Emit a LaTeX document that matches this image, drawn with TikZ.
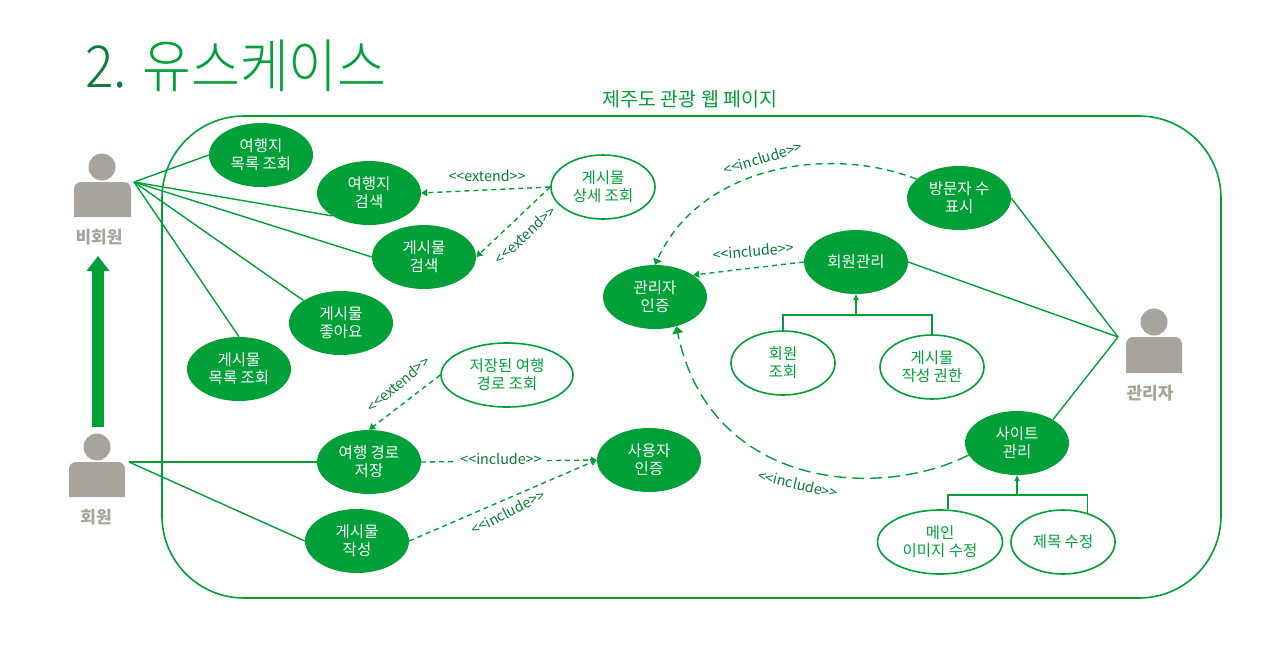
\documentclass[tikz,border=0pt]{standalone}
\usepackage{fontspec}
\setmainfont{Noto Sans CJK KR}
\newfontfamily\thinfont{Noto Sans CJK KR Light}
\usetikzlibrary{shapes.geometric,arrows.meta}
\definecolor{grn}{HTML}{00A039}
\definecolor{dgrn}{HTML}{0B7A3A}
\definecolor{gry}{HTML}{A8A49C}
\newcommand{\inc}{{<}{<}include{>}{>}}
\newcommand{\ext}{{<}{<}extend{>}{>}}
\tikzset{
 x=1pt,y=-1pt,
 uc/.style={ellipse,fill=grn,text=white,minimum width=104pt,minimum height=64pt,inner sep=0pt,align=center,font=\fontsize{15.5}{18}\selectfont},
 ucout/.style={ellipse,draw=grn,line width=1.6pt,fill=white,text=grn,minimum width=104pt,minimum height=64pt,inner sep=0pt,align=center,font=\fontsize{15.5}{18}\selectfont},
 link/.style={draw=grn,line width=1.4pt},
 dep/.style={draw=grn,line width=1.4pt,dash pattern=on 5pt off 4pt,-{Triangle[length=6pt,width=7pt]}},
 stem/.style={draw=grn,line width=1.4pt,-{Triangle[length=6pt,width=5pt]}},
 tag/.style={text=dgrn,font=\fontsize{14.3}{15}\selectfont,inner sep=1pt},
 who/.style={text=gry,font=\bfseries\fontsize{17}{18}\selectfont,inner sep=0pt},
 head/.style={circle,fill=gry,minimum size=27pt,inner sep=0pt},
 torso/.style={fill=gry,rounded corners=7pt},
}
\begin{document}
\begin{tikzpicture}
\useasboundingbox (0,0) rectangle (1280,646);
\fill[white] (0,0) rectangle (1280,646);
\node[anchor=west,inner sep=0pt,font=\thinfont\fontsize{58}{60}\selectfont,text=grn,xscale=0.915] (title) at (85,66) {\textcolor{dgrn}{2.} 유스케이스};
\node[text=grn,font=\fontsize{19.5}{20}\selectfont,inner sep=0pt] (sys) at (690,99) {제주도 관광 웹 페이지};
\draw[grn,line width=1.6pt,rounded corners=82pt] (162,116) rectangle (1221,598);

% actors
\node[head] (a1) at (102,167) {};
\path[torso] (74,217) [sharp corners] -- (74,200) [rounded corners=7pt] -- (74,182) -- (131,182) [sharp corners] -- (131,217) -- cycle;
\node[who] (a1l) at (99,237) {비회원};
\node[head] (a2) at (97,447) {};
\path[torso] (69,497) [sharp corners] -- (69,480) [rounded corners=7pt] -- (69,462) -- (125,462) [sharp corners] -- (125,497) -- cycle;
\node[who] (a2l) at (96,517) {회원};
\node[head] (a3) at (1154,322) {};
\path[torso] (1126,373) [sharp corners] -- (1126,355) [rounded corners=7pt] -- (1126,337) -- (1182,337) [sharp corners] -- (1182,373) -- cycle;
\node[who] (a3l) at (1150,393) {관리자};
\coordinate (p1) at (134,182);
\coordinate (p2) at (129,462);
\coordinate (p3) at (1118,337);
\coordinate (g1) at (98,427);
\coordinate (g2) at (98,256);
\draw[grn,line width=11.5pt,-{Triangle[length=15pt,width=22pt]}] (g1) -- (g2);

% use cases
\node[uc] (u1) at (261,155) {여행지\\목록 조회};
\node[uc] (u2) at (369,193) {여행지\\검색};
\node[uc] (u3) at (424,257) {게시물\\검색};
\node[uc] (u4) at (341,323) {게시물\\좋아요};
\node[uc] (u5) at (239,369) {게시물\\목록 조회};
\node[ucout] (u6) at (603,187) {게시물\\상세 조회};
\node[uc] (u7) at (655,297) {관리자\\인증};
\node[uc] (u8) at (856,262) {회원관리};
\node[uc] (u9) at (959,198) {방문자 수\\표시};
\node[ucout] (u10) at (783,363) {회원\\조회};
\node[ucout] (u11) at (932,367) {게시물\\작성 권한};
\node[uc] (u12) at (1017,443) {사이트\\관리};
\node[ucout,minimum width=125pt] (u13) at (940,542) {메인\\이미지 수정};
\node[ucout] (u14) at (1063,542) {제목 수정};
\node[ucout,minimum width=132pt] (u15) at (507,375) {저장된 여행\\경로 조회};
\node[uc] (u16) at (369,462) {여행 경로\\저장};
\node[uc] (u17) at (357,541) {게시물\\작성};
\node[uc] (u18) at (649,460) {사용자\\인증};

% plain links
\draw[link] (p1) -- (u1.west);
\draw[link] (p1) -- (u2.212);
\draw[link] (p1) -- (u3.west);
\draw[link] (p1) -- (u4.149);
\draw[link] (p1) -- (u5.north);
\draw[link] (p2) -- (u16.west);
\draw[link] (p2) -- (u17.west);
\draw[link] (u9.east) -- (p3);
\draw[link] (u8.east) -- (p3);
\draw[link] (u12.33) -- (p3);

% trees
\coordinate (t1) at (856,315);
\coordinate (t2) at (1017,495);
\draw[link] (u10.north) |- (t1);
\draw[link] (u11.north) |- (t1);
\draw[stem] (t1) -- (u8.south);
\draw[link] (u13.76) |- (t2);
\draw[link] (u14.50) |- (t2);
\draw[stem] (t2) -- (u12.south);

% dependencies
\draw[dep] (u6.west) -- (u2.east);
\draw[dep] (u6.west) -- (u3.east);
\draw[dep] (u15.west) -- (u16.north);
\draw[dep] (u16.east) -- (u18.west);
\draw[dep] (u17.east) -- (u18.west);
\draw[dep] (u8.west) -- (u7.30);
\draw[dep,dash pattern=on 7pt off 5pt,-{Triangle[length=6pt,width=9pt]}] (u9.156) .. controls (830,145) and (700,165) .. (u7.north);
\draw[dep,dash pattern=on 12pt off 6pt,-{Triangle[length=7pt,width=11pt]}] (u12.194) .. controls (880,500) and (710,490) .. (u7.-54);

% labels
\node[tag] (l1) at (487,176) {\ext};
\node[tag,rotate=43] (l2) at (525,235) {\ext};
\node[tag,rotate=17] (l3) at (763,158) {\inc};
\node[tag,rotate=5] (l4) at (753,251) {\inc};
\node[tag,rotate=40] (l5) at (398,384) {\ext};
\node[tag,fill=white,inner sep=4pt] (l6) at (501,459) {\inc};
\node[tag,rotate=27] (l7) at (508,512) {\inc};
\node[tag,rotate=-13] (l8) at (798,484) {\inc};
\end{tikzpicture}
\end{document}
